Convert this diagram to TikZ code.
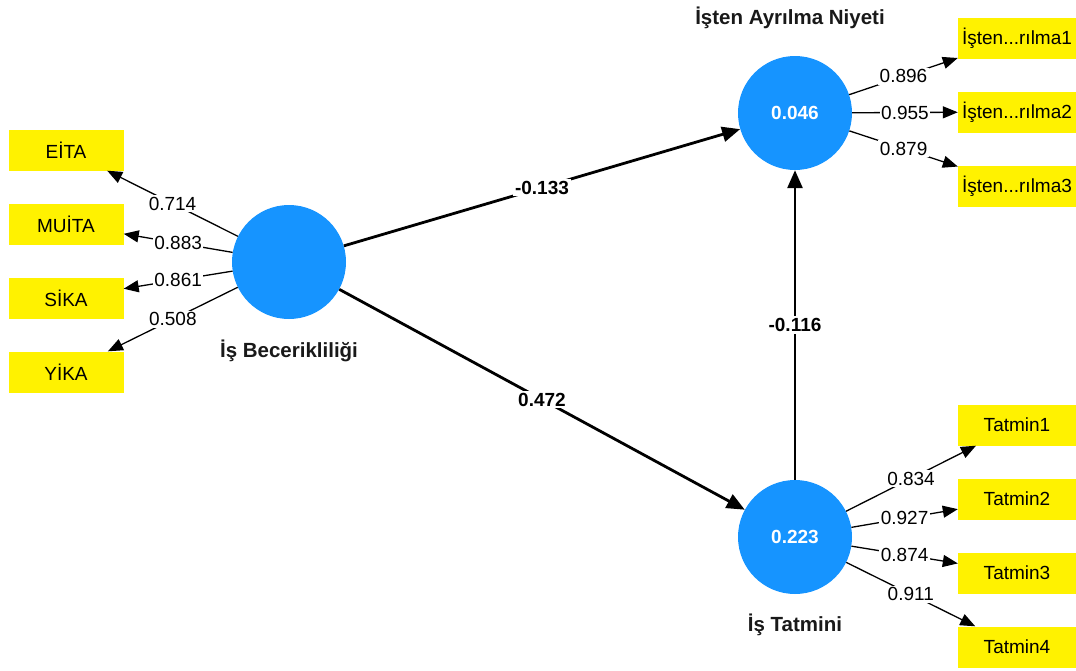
\documentclass[tikz,border=0pt]{standalone}
\usepackage{fontspec}
\setmainfont{Liberation Sans}
\usetikzlibrary{positioning, arrows.meta}
\definecolor{latentblue}{RGB}{22,148,255}

\begin{document}
\begin{tikzpicture}[x=1pt, y=-1pt,
    latent/.style={circle, fill=latentblue, minimum size=114pt, inner sep=0pt,
        text=white, font=\fontsize{19}{22}\selectfont\bfseries},
    indicator/.style={fill=yellow, minimum height=41pt, inner sep=0pt,
        font=\fontsize{19}{22}\selectfont},
    title/.style={font=\fontsize{20.5}{24}\selectfont\bfseries, text=black!90},
    loading/.style={line width=1.3pt, -{Triangle[length=15pt,width=12pt]}},
    relation/.style={line width=2.8pt, -{Triangle[length=18pt,width=15pt]}},
    weight/.style={fill=white, inner sep=1.5pt, font=\fontsize{19}{22}\selectfont},
    coef/.style={fill=white, inner sep=2pt, font=\fontsize{19}{22}\selectfont\bfseries}]
    \useasboundingbox (0,0) rectangle (1076,670);
    % latent variables
    \node [latent] (Bec) at (289,262) {};
    \node [latent] (Ayr) at (795,113) {0.046};
    \node [latent] (Tat) at (795,537) {0.223};
    \node [title] (BecName) at (289,351) {İş Becerikliliği};
    \node [title] (AyrName) at (790,18) {İşten Ayrılma Niyeti};
    \node [title] (TatName) at (795,625) {İş Tatmini};
    % indicators
    \node [indicator, minimum width=115pt] (EITA) at (66,150) {EİTA};
    \node [indicator, minimum width=115pt] (MUITA) at (66,224) {MUİTA};
    \node [indicator, minimum width=115pt] (SIKA) at (66,298) {SİKA};
    \node [indicator, minimum width=115pt] (YIKA) at (66,372) {YİKA};
    \node [indicator, minimum width=118pt] (Ayr1) at (1017,38) {İşten...rılma1};
    \node [indicator, minimum width=118pt] (Ayr2) at (1017,112) {İşten...rılma2};
    \node [indicator, minimum width=118pt] (Ayr3) at (1017,186) {İşten...rılma3};
    \node [indicator, minimum width=118pt] (Tat1) at (1017,425) {Tatmin1};
    \node [indicator, minimum width=118pt] (Tat2) at (1017,499) {Tatmin2};
    \node [indicator, minimum width=118pt] (Tat3) at (1017,573) {Tatmin3};
    \node [indicator, minimum width=118pt] (Tat4) at (1017,647) {Tatmin4};
    % outer loadings
    \draw [loading] (Bec) -- node [weight] {0.714} (EITA);
    \draw [loading] (Bec) -- node [weight] {0.883} (MUITA);
    \draw [loading] (Bec) -- node [weight] {0.861} (SIKA);
    \draw [loading] (Bec) -- node [weight] {0.508} (YIKA);
    \draw [loading] (Ayr) -- node [weight] {0.896} (Ayr1);
    \draw [loading] (Ayr) -- node [weight] {0.955} (Ayr2);
    \draw [loading] (Ayr) -- node [weight] {0.879} (Ayr3);
    \draw [loading] (Tat) -- node [weight] {0.834} (Tat1);
    \draw [loading] (Tat) -- node [weight] {0.927} (Tat2);
    \draw [loading] (Tat) -- node [weight] {0.874} (Tat3);
    \draw [loading] (Tat) -- node [weight] {0.911} (Tat4);
    % path coefficients
    \draw [relation] (Bec) -- node [coef] {-0.133} (Ayr);
    \draw [relation] (Bec) -- node [coef] {0.472} (Tat);
    \draw [relation] (Tat) -- node [coef] {-0.116} (Ayr);
\end{tikzpicture}
\end{document}
